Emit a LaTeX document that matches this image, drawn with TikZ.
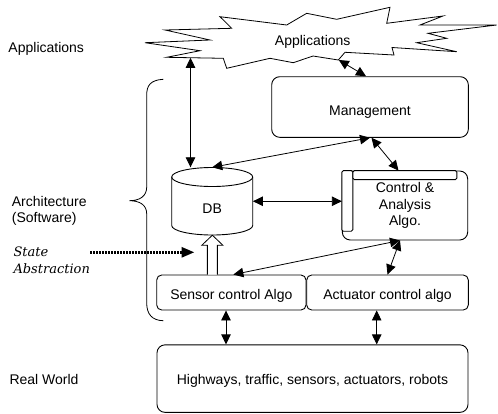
\documentclass[tikz,border=0pt]{standalone}
\usepackage{fontspec}
\setmainfont{Liberation Sans}
\newfontfamily\dvserif{DejaVu Serif}
\usetikzlibrary{arrows.meta,calc}
\begin{document}
\begin{tikzpicture}[x=1pt,y=-1pt,
  every node/.style={font=\fontsize{14}{16}\selectfont},
  box/.style={draw, line width=0.9pt, rounded corners=#1, inner sep=0pt},
  box/.default=8pt,
  lab/.style={inner sep=0pt, align=left},
  ln/.style={line width=0.8pt},
  arr/.style={line width=0.8pt, {Triangle[length=10pt,width=9.5pt]}-{Triangle[length=10pt,width=9.5pt]}},
  dotarr/.style={line width=2.4pt, dash pattern=on 2pt off 1pt, -{Triangle[length=12.6pt,width=10pt]}}
]
\useasboundingbox (0,0) rectangle (498,413);

% cloud
\draw[ln, fill=white] (220,16.7) -- (286.7,25) -- (306.7,13.3) -- (336.7,19.3) -- (390,7.3)
  -- (386.7,23.3) -- (443,16) -- (420,25) -- (496.7,25) -- (428,33.3) -- (446.7,38.3)
  -- (416.7,42.7) -- (456.7,51.7) -- (392,47.5) -- (394,55) -- (345,52.3) -- (338.3,60)
  -- (313,56) -- (293.3,62.7) -- (270,58.3) -- (226.7,68.3) -- (223.3,58.3) -- (166.7,57.3)
  -- (200,50.7) -- (145,42.7) -- (210,40) -- (165,30) -- (231.7,28.3) -- cycle;
\node[anchor=base, inner sep=0pt] (apps) at (312.7,45.5) {Applications};
\coordinate (cA) at (190.5,57.8);
\coordinate (cB) at (338.8,60);

% brace
\draw[ln] (163.3,79.3) .. controls (150,80) and (146.7,86) .. (146.7,95) -- (146.7,187)
  .. controls (146.7,196) and (140,200.7) .. (129.3,200.7)
  .. controls (140,200.7) and (146.7,205) .. (146.7,214) -- (146.7,303)
  .. controls (146.7,314) and (152,320.5) .. (163.3,320.7);

% left labels
\node[lab, anchor=base west] (lapps) at (8.3,52) {Applications};
\node[lab, anchor=north west] (larch) at (11.7,195.8) {Architecture\\(Software)};
\node[lab, anchor=north west, font={\dvserif\itshape\fontsize{13}{16.7}\selectfont}] (sa) at (13.3,246.5) {State\\Abstraction};
\node[lab, anchor=base west] (lreal) at (9.3,384.3) {Real World};

% DB cylinder
\draw[line width=0.9pt, fill=white] (171.7,177) -- (171.7,225.5)
  arc[start angle=180, end angle=360, x radius=40.5pt, y radius=9.5pt] -- (252.7,177);
\draw[line width=0.9pt] (212.2,177) ellipse [x radius=40.5pt, y radius=9.5pt];
\node[inner sep=0pt, minimum width=81pt, minimum height=67.5pt, text height=23.5pt, text depth=0pt] (db) at (212.2,201.25) {DB};

% boxes
\node[box, minimum width=196.6pt, minimum height=60.6pt, text height=16pt, text depth=0pt] (mgmt) at (370,107) {Management};
\node[box, minimum width=125.4pt, minimum height=69pt, align=center, font=\fontsize{14}{16.7}\selectfont] (ctl) at (405,205.5) {Control \&\\Analysis\\Algo.};
\draw[line width=0.9pt, fill=white, rounded corners=1.5pt] (ctl.north west) rectangle ($(ctl.north west)+(11,60.7)$);
\draw[line width=0.9pt, fill=white, rounded corners=1.5pt] ($(ctl.north west)+(11,0)$) rectangle ($(ctl.north west)+(115,9)$);
\node[box=5pt, minimum width=149.3pt, minimum height=35pt, text height=13pt, text depth=0pt] (sens) at (231.35,292.5) {Sensor control Algo};
\node[box=5pt, minimum width=161.6pt, minimum height=35pt, text height=13pt, text depth=0pt] (act) at (387.5,292.5) {Actuator control algo};
\node[box, minimum width=311pt, minimum height=67.5pt, text height=10.9pt, text depth=0pt] (real) at (312.5,378.6) {Highways, traffic, sensors, actuators, robots};

% connectors
\draw[arr] (cA) -- (cA |- db.north);
\draw[arr] (cB) -- ([xshift=-4pt]mgmt.north);
\draw[arr] (mgmt.south) -- (db.north);
\draw[arr] ([xshift=1.5pt]mgmt.south) -- ([xshift=-6.5pt]ctl.north);
\draw[arr] (db.east) -- (db.east -| ctl.west);
\coordinate (cS) at ([xshift=-5pt]ctl.south);
\draw[arr] (cS) -- ([xshift=2pt]sens.north);
\draw[arr] (cS) -- (act.north);
\draw[arr] ([xshift=-5.35pt]sens.south) -- ([xshift=-5.35pt]sens.south |- real.north);
\draw[arr] ([xshift=-10.8pt]act.south) -- ([xshift=-10.8pt]act.south |- real.north);

% hollow arrow (state abstraction)
\coordinate (hA) at ([xshift=-19pt]sens.north);
\coordinate (hB) at (hA |- db.south);
\draw[ln, fill=white] ($(hA)+(-5,0)$) -- ($(hB)+(-5,10)$) -- ($(hB)+(-10.5,10)$) -- (hB)
  -- ($(hB)+(10.5,10)$) -- ($(hB)+(5,10)$) -- ($(hA)+(5,0)$);

% dotted arrow
\coordinate (dt) at (194.3,252.3);
\draw[dotarr] (sa.east |- dt) -- (dt);
\end{tikzpicture}
\end{document}
